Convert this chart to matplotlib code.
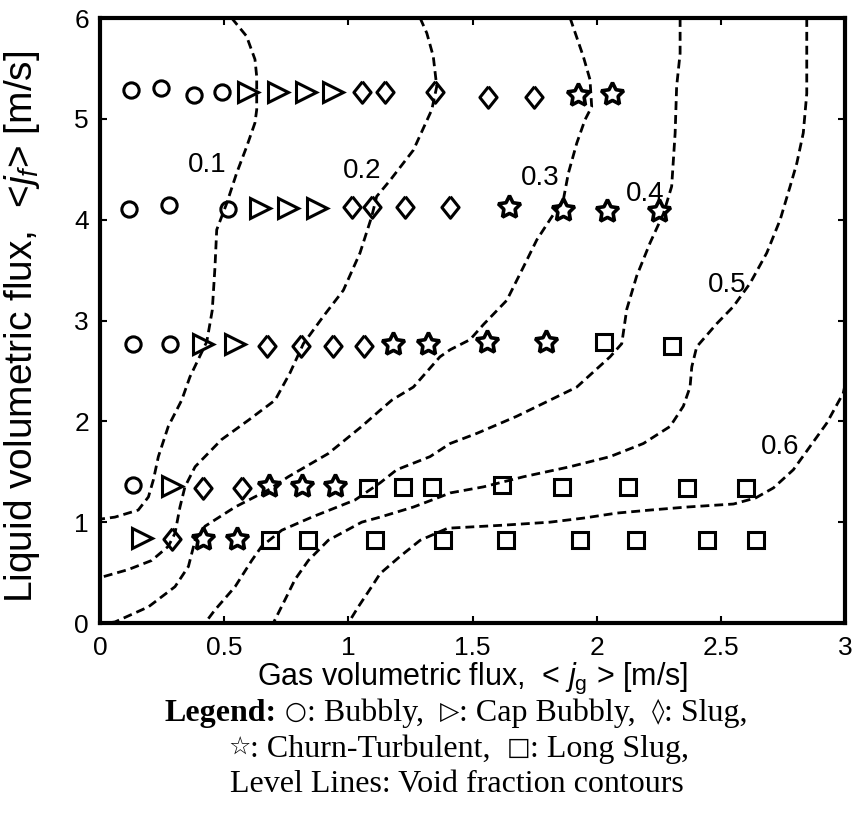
import matplotlib
matplotlib.use("Agg")
import matplotlib.pyplot as plt

sans = 'Liberation Sans'
serif = ['Liberation Serif', 'DejaVu Sans']

plt.rcParams['mathtext.fontset'] = 'custom'
plt.rcParams['mathtext.rm'] = sans
plt.rcParams['mathtext.it'] = sans + ':italic'

# pontos de cada regime de escoamento: jg [m/s], jf [m/s]
bubbly_jg = [0.124, 0.245, 0.379, 0.490, 0.118, 0.279, 0.517, 0.132, 0.282, 0.132]
bubbly_jf = [5.29, 5.31, 5.24, 5.27, 4.11, 4.15, 4.11, 2.77, 2.77, 1.37]

cap_jg = [0.597, 0.718, 0.830, 0.940, 0.644, 0.758, 0.873, 0.416, 0.544, 0.289, 0.168]
cap_jf = [5.27, 5.27, 5.27, 5.27, 4.12, 4.12, 4.12, 2.77, 2.77, 1.36, 0.84]

slug_jg = [1.054, 1.148, 1.349, 1.564, 1.748, 1.013, 1.094, 1.228, 1.410,
           0.674, 0.808, 0.940, 1.063, 0.416, 0.571, 0.289]
slug_jf = [5.27, 5.27, 5.27, 5.22, 5.22, 4.13, 4.13, 4.13, 4.13,
           2.75, 2.75, 2.75, 2.75, 1.34, 1.34, 0.83]

churn_jg = [1.926, 2.061, 1.648, 1.866, 2.041, 2.249, 1.181, 1.322, 1.560, 1.795,
            0.681, 0.815, 0.946, 0.416, 0.550]
churn_jf = [5.24, 5.25, 4.13, 4.10, 4.09, 4.09, 2.77, 2.77, 2.79, 2.79,
            1.36, 1.36, 1.36, 0.83, 0.83]

long_jg = [2.030, 2.304, 1.081, 1.222, 1.336, 1.620, 1.859, 2.125, 2.363, 2.602,
           0.685, 0.839, 1.107, 1.383, 1.635, 1.933, 2.159, 2.443, 2.642]
long_jf = [2.79, 2.75, 1.34, 1.35, 1.35, 1.37, 1.35, 1.35, 1.34, 1.34,
           0.82, 0.82, 0.82, 0.82, 0.82, 0.82, 0.82, 0.82, 0.82]

# curvas de nivel da fracao de vazio
c01_jg = [0.53, 0.59, 0.624, 0.631, 0.631, 0.624, 0.59, 0.55, 0.51, 0.47, 0.463, 0.452,
          0.430, 0.362, 0.329, 0.275, 0.235, 0.215, 0.195, 0.154, 0.060, 0.0]
c01_jf = [6.0, 5.82, 5.59, 5.42, 5.09, 4.96, 4.72, 4.46, 4.16, 3.90, 3.53, 3.10,
          2.79, 2.44, 2.21, 1.95, 1.65, 1.42, 1.25, 1.12, 1.05, 1.03]

c02_jg = [1.289, 1.316, 1.342, 1.356, 1.336, 1.262, 1.168, 1.114, 1.094, 1.047, 0.980,
          0.899, 0.819, 0.765, 0.705, 0.597, 0.490, 0.383, 0.342, 0.322, 0.302,
          0.275, 0.208, 0.114, 0.0]
c02_jf = [6.0, 5.85, 5.62, 5.32, 5.09, 4.69, 4.39, 4.23, 4.03, 3.67, 3.30,
          3.04, 2.77, 2.48, 2.21, 2.01, 1.82, 1.55, 1.35, 1.15, 0.89,
          0.76, 0.62, 0.53, 0.45]

c03_jg = [1.893, 1.946, 1.973, 1.980, 1.953, 1.920, 1.886, 1.866, 1.812, 1.759, 1.705,
          1.638, 1.544, 1.490, 1.410, 1.369, 1.262, 1.175, 1.128, 1.054, 0.919, 0.758,
          0.678, 0.544, 0.423, 0.383, 0.356, 0.302, 0.195, 0.060, 0.03]
c03_jf = [6.0, 5.62, 5.39, 5.12, 4.99, 4.76, 4.46, 4.20, 4.00, 3.80, 3.53,
          3.20, 2.96, 2.81, 2.71, 2.64, 2.34, 2.21, 2.11, 1.95, 1.68, 1.45,
          1.32, 1.15, 0.96, 0.82, 0.56, 0.36, 0.16, 0.01, 0.0]

c04_jg = [2.336, 2.336, 2.322, 2.316, 2.302, 2.269, 2.215, 2.161, 2.121, 2.101, 2.054,
          1.920, 1.812, 1.678, 1.517, 1.410, 1.329, 1.195, 1.128, 1.027, 0.853, 0.732,
          0.651, 0.611, 0.544, 0.463, 0.423]
c04_jf = [6.0, 5.65, 5.32, 4.86, 4.33, 4.06, 3.77, 3.44, 3.11, 2.77, 2.64,
          2.34, 2.21, 2.05, 1.88, 1.78, 1.65, 1.52, 1.39, 1.22, 1.05, 0.92,
          0.76, 0.62, 0.36, 0.13, 0.0]

c05_jg = [2.846, 2.846, 2.832, 2.806, 2.779, 2.739, 2.685, 2.618, 2.551, 2.484, 2.403,
          2.383, 2.376, 2.349, 2.296, 2.188, 2.054, 1.893, 1.705, 1.544, 1.410, 1.369,
          1.262, 1.128, 1.054, 0.919, 0.839, 0.785, 0.745, 0.698]
c05_jf = [6.0, 5.25, 4.86, 4.56, 4.33, 4.00, 3.67, 3.37, 3.14, 2.97, 2.74,
          2.54, 2.34, 2.15, 1.95, 1.78, 1.65, 1.55, 1.45, 1.35, 1.29, 1.25,
          1.15, 1.05, 1.00, 0.82, 0.62, 0.43, 0.23, 0.0]

c06_jg = [3.0, 2.993, 2.926, 2.859, 2.792, 2.712, 2.640, 2.551, 2.363, 2.215, 2.081,
          1.946, 1.812, 1.624, 1.400, 1.289, 1.208, 1.128, 1.094, 1.040, 1.0]
c06_jf = [2.36, 2.28, 1.98, 1.75, 1.52, 1.34, 1.24, 1.18, 1.15, 1.12, 1.09,
          1.04, 1.00, 0.97, 0.94, 0.82, 0.66, 0.49, 0.36, 0.16, 0.0]

rotulos_nivel = ['0.1', '0.2', '0.3', '0.4', '0.5', '0.6']
rotulos_x = [0.43, 1.054, 1.772, 2.195, 2.524, 2.739]
rotulos_y = [4.54, 4.48, 4.41, 4.25, 3.35, 1.75]

fig = plt.figure(figsize=(8.59, 8.38), dpi=100)
ax = fig.add_axes([100 / 859, 215 / 838, 745 / 859, 605 / 838])

# curvas tracejadas
tracejado = (0, (3.2, 1.8))
for cx, cy in [(c01_jg, c01_jf), (c02_jg, c02_jf), (c03_jg, c03_jf),
               (c04_jg, c04_jf), (c05_jg, c05_jf), (c06_jg, c06_jf)]:
    ax.plot(cx, cy, color='black', lw=2.0, linestyle=tracejado, zorder=2)

for txt, lx, ly in zip(rotulos_nivel, rotulos_x, rotulos_y):
    ax.text(lx, ly, txt, fontsize=20, family=sans, ha='center', va='center', zorder=3)

# marcadores dos regimes
losango = [(0, 1), (0.8, 0), (0, -1), (-0.8, 0), (0, 1)]
estilo = dict(linestyle='none', markerfacecolor='none', markeredgecolor='black',
              markeredgewidth=2.2, zorder=4)
ax.plot(bubbly_jg, bubbly_jf, marker='o', markersize=11, **estilo)
ax.plot(cap_jg, cap_jf, marker='>', markersize=14.5, **estilo)
ax.plot(slug_jg, slug_jf, marker=losango, markersize=15.5, **estilo)
ax.plot(churn_jg, churn_jf, marker=(5, 1, 0), markersize=17,
        **{**estilo, 'markeredgewidth': 2.6})
ax.plot(long_jg, long_jf, marker='s', markersize=11, **estilo)

ax.set_xlim(0, 3)
ax.set_ylim(0, 6)
ax.set_xticks([0, 0.5, 1, 1.5, 2, 2.5, 3])
ax.set_xticklabels(['0', '0.5', '1', '1.5', '2', '2.5', '3'])
ax.set_yticks(range(7))

for lado in ax.spines.values():
    lado.set_linewidth(3)
ax.tick_params(direction='in', length=5, width=1.5, top=True, right=True,
               labelsize=19)
ax.tick_params(axis='x', pad=9)
ax.tick_params(axis='y', pad=8)
for lab in ax.get_xticklabels() + ax.get_yticklabels():
    lab.set_family(sans)

ax.set_xlabel(r'Gas volumetric flux,  < $\it{j}_{\rm g}$ > [m/s]', fontsize=22,
              family=sans)
ax.set_ylabel(r'Liquid volumetric flux,  <$\it{j_f}$> [m/s]', fontsize=28,
              family=sans)
ax.xaxis.set_label_coords(0.5, (623 - 661) / 605)
ax.yaxis.set_label_coords((42 - 100) / 745, 0.49)

# legenda em texto abaixo do grafico, montada por pedacos
renderer = fig.canvas.get_renderer()
tam = 23
tam_simb = 18
normal = dict(fontsize=tam, family=serif)
negrito = dict(fontsize=tam, family=serif, weight='bold')
simbolo = dict(fontsize=tam_simb, family=['DejaVu Sans'])


def largura(s, props):
    t = fig.text(0, 0, s, **props)
    w = t.get_window_extent(renderer).width
    t.remove()
    return w


espaco = largura('x x', normal) - largura('xx', normal)


def linha(pedacos, base_px, x_px=None, esquerda_px=None):
    # pedacos: (texto, props, espacos antes)
    larg = [largura(s, p) for s, p, _ in pedacos]
    total = sum(larg) + espaco * sum(n for _, _, n in pedacos)
    x = esquerda_px if esquerda_px is not None else x_px - total / 2
    for (s, p, n), w in zip(pedacos, larg):
        x += n * espaco
        dy = 2 if p is simbolo else 0
        fig.text(x / 859, 1 - (base_px - dy) / 838, s, va='baseline', **p)
        x += w


linha([('Legend:', negrito, 0), ('\u25CB', simbolo, 1), (': Bubbly,', normal, 0),
       ('\u25B7', simbolo, 2), (': Cap Bubbly,', normal, 0),
       ('\u25CA', simbolo, 2), (': Slug,', normal, 0)], 721, x_px=456)
linha([('\u2606', simbolo, 0), (': Churn-Turbulent,', normal, 0),
       ('\u25A1', simbolo, 2), (': Long Slug,', normal, 0)], 757, esquerda_px=228)
linha([('Level Lines: Void fraction contours', normal, 0)], 792, x_px=457)

fig.savefig('out.png', dpi=100)
